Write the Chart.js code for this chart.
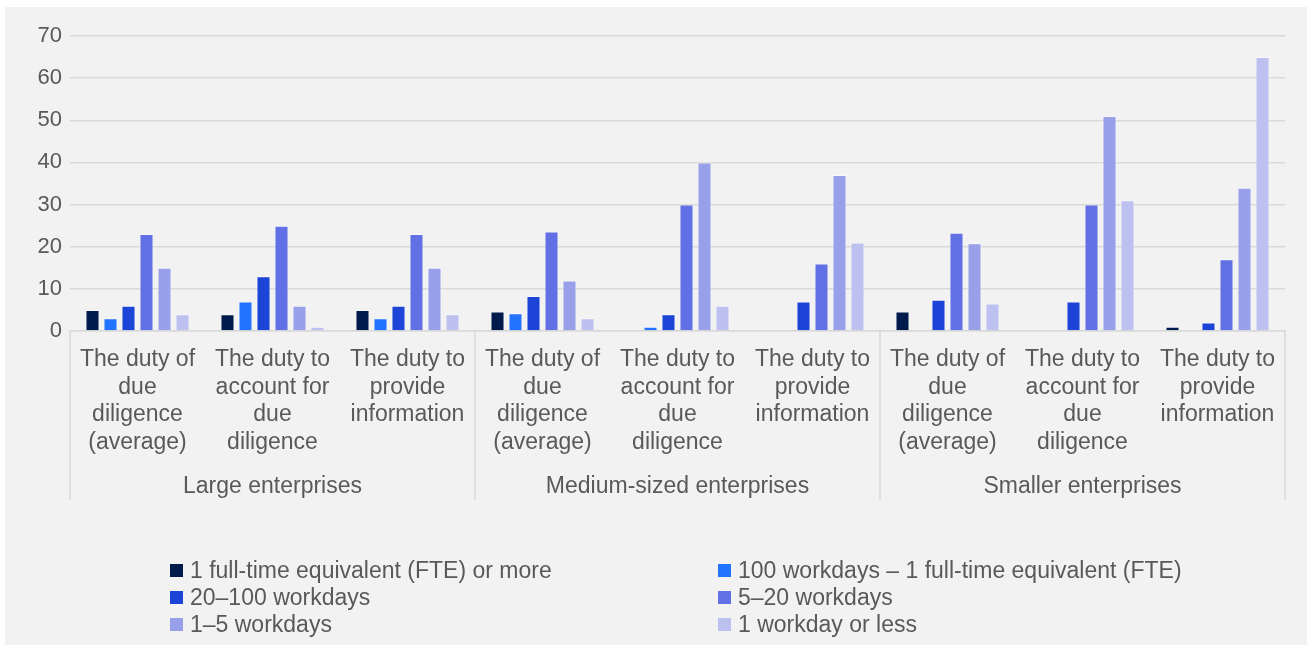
<!DOCTYPE html>
<html>
<head>
<meta charset="utf-8">
<script src="https://cdn.jsdelivr.net/npm/chart.js@4.4.1/dist/chart.umd.min.js"></script>
<style>
  html, body { margin: 0; padding: 0; background: #ffffff; }
  body { width: 1312px; height: 648px; position: relative; overflow: hidden; font-family: "Liberation Sans", Arial, sans-serif; }
  #panel { position: absolute; left: 5px; top: 7px; width: 1302px; height: 638px; background: #f2f2f2; }
  #wrap { position: absolute; left: 0; top: 0; width: 1302px; height: 638px; }
  #legend { position: absolute; left: 0; top: 0; width: 1302px; height: 638px; pointer-events: none; }
  .li { position: absolute; display: flex; align-items: center; height: 27px; font-size: 23px; color: #595959; white-space: nowrap; }
  .li span.box { display: inline-block; width: 13px; height: 13px; margin-right: 7px; }
</style>
</head>
<body>
<div id="panel">
  <div id="wrap"><canvas id="c"></canvas></div>
  <div id="legend"></div>
</div>
<script>
// ---- Data ----
const categories = [
  ["The duty of", "due", "diligence", "(average)"],
  ["The duty to", "account for", "due", "diligence"],
  ["The duty to", "provide", "information"],
  ["The duty of", "due", "diligence", "(average)"],
  ["The duty to", "account for", "due", "diligence"],
  ["The duty to", "provide", "information"],
  ["The duty of", "due", "diligence", "(average)"],
  ["The duty to", "account for", "due", "diligence"],
  ["The duty to", "provide", "information"]
];
const groups = ["Large enterprises", "Medium-sized enterprises", "Smaller enterprises"];
const seriesNames = [
  "1 full-time equivalent (FTE) or more",
  "100 workdays \u2013 1 full-time equivalent (FTE)",
  "20\u2013100 workdays",
  "5\u201320 workdays",
  "1\u20135 workdays",
  "1 workday or less"
];
const fteOrMore      = [5, 4, 5, 4.6, 0, 0, 4.6, 0, 1];
const days100toFte   = [3, 7, 3, 4.2, 1, 0, 0, 0, 0];
const days20to100    = [6, 13, 6, 8.3, 4, 7, 7.4, 7, 2];
const days5to20      = [23, 25, 23, 23.6, 30, 16, 23.3, 30, 17];
const days1to5       = [15, 6, 15, 12, 40, 37, 20.8, 51, 34];
const dayOrLess      = [4, 1, 4, 3, 6, 21, 6.5, 31, 65];
const yTicks = [0, 10, 20, 30, 40, 50, 60, 70];

const colors = ["#001a4b", "#2273ff", "#1c44d6", "#6171e5", "#98a0ea", "#bcc1f0"];
const seriesValues = [fteOrMore, days100toFte, days20to100, days5to20, days1to5, dayOrLess];

const textColor = "#595959";
const gridColor = "#d9d9d9";
const fontFamily = "'Liberation Sans', Arial, sans-serif";

const datasets = seriesValues.map((vals, i) => ({
  label: seriesNames[i],
  data: vals,
  backgroundColor: colors[i],
  borderColor: "rgba(255,255,255,0.45)",
  borderWidth: (ctx) => (ctx.raw === 0 ? 0 : 1),
  borderSkipped: "bottom",
  categoryPercentage: 0.8,
  barPercentage: 0.78,
  xAxisID: "x"
}));

const dividerPlugin = {
  id: "dividers",
  afterDraw(chart) {
    const x = chart.scales.x;
    const x2 = chart.scales.x2;
    const ctx = chart.ctx;
    const n = categories.length;
    const half = (x.getPixelForValue(1) - x.getPixelForValue(0)) / 2;
    ctx.save();
    ctx.strokeStyle = gridColor;
    ctx.lineWidth = 1.5;
    for (let i = 0; i <= n; i += 3) {
      const px = i < n ? x.getPixelForValue(i) - half : x.getPixelForValue(n - 1) + half;
      ctx.beginPath();
      ctx.moveTo(px, chart.chartArea.bottom);
      ctx.lineTo(px, x2.bottom);
      ctx.stroke();
    }
    ctx.restore();
  }
};

const chart = new Chart(document.getElementById("c"), {
  type: "bar",
  data: {
    labels: categories,
    datasets: datasets
  },
  options: {
    responsive: true,
    maintainAspectRatio: false,
    animation: false,
    layout: { padding: { left: 5, top: 29, right: 22, bottom: 145 } },
    plugins: {
      legend: { display: false },
      tooltip: { enabled: false }
    },
    scales: {
      x: {
        type: "category",
        position: "bottom",
        weight: 1,
        offset: true,
        grid: { display: false, drawTicks: false },
        border: { display: true, color: gridColor, width: 1.5 },
        afterFit: (s) => { s.height = 123; },
        ticks: {
          color: textColor,
          font: { family: fontFamily, size: 23, lineHeight: 1.2 },
          padding: 15,
          maxRotation: 0,
          autoSkip: false
        }
      },
      x2: {
        type: "category",
        position: "bottom",
        weight: 2,
        labels: groups,
        offset: true,
        grid: { display: false, drawTicks: false },
        border: { display: false },
        afterFit: (s) => { s.height = 46; },
        ticks: {
          color: textColor,
          font: { family: fontFamily, size: 23, lineHeight: 1.2 },
          padding: 19,
          maxRotation: 0,
          autoSkip: false
        }
      },
      y: {
        min: 0,
        max: 70,
        afterBuildTicks: (s) => { s.ticks = yTicks.map(v => ({ value: v })); },
        afterFit: (s) => { s.width = 60; },
        grid: { color: gridColor, lineWidth: 1.5, drawTicks: false },
        border: { display: false },
        ticks: {
          color: textColor,
          font: { family: fontFamily, size: 22 },
          padding: 8
        }
      }
    }
  },
  plugins: [dividerPlugin]
});

// HTML legend built from the chart's datasets (two columns)
const legendEl = document.getElementById("legend");
const colLeft = [165, 713];
const rowTop = [549.5, 576.5, 603.5];
chart.data.datasets.forEach((ds, i) => {
  const div = document.createElement("div");
  div.className = "li";
  div.style.left = colLeft[i % 2] + "px";
  div.style.top = rowTop[Math.floor(i / 2)] + "px";
  const box = document.createElement("span");
  box.className = "box";
  box.style.background = ds.backgroundColor;
  const txt = document.createElement("span");
  txt.textContent = ds.label;
  div.appendChild(box);
  div.appendChild(txt);
  legendEl.appendChild(div);
});
</script>
</body>
</html>
